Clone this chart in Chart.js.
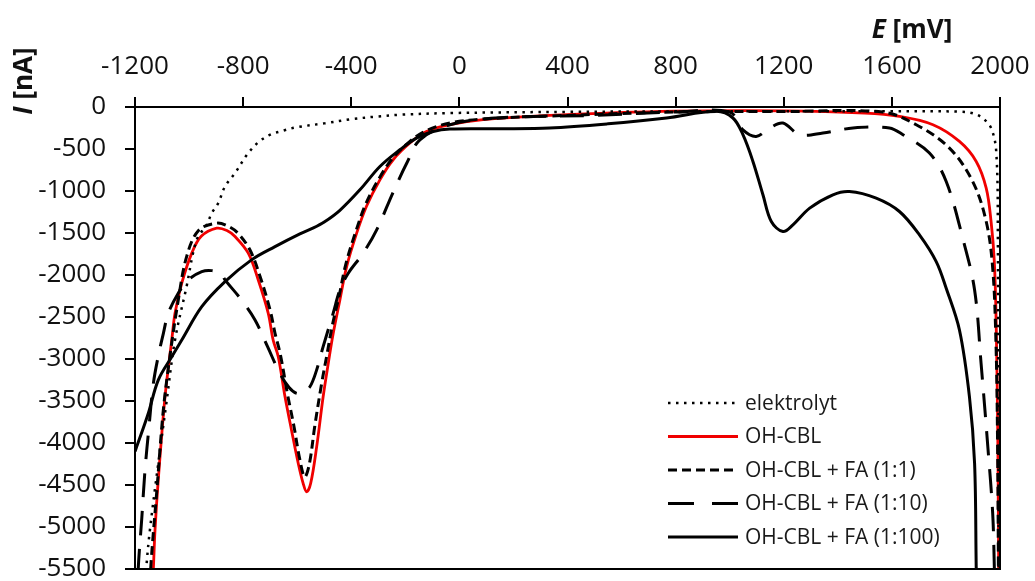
<!DOCTYPE html>
<html>
<head>
<meta charset="utf-8">
<script src="https://cdn.jsdelivr.net/npm/chart.js@4.4.1/dist/chart.umd.min.js"></script>
<style>
  body { margin: 0; background: #fff; }
  #cv { display: block; }
</style>
</head>
<body>
<canvas id="cv" width="1035" height="581"></canvas>
<script>
// axis ranges / tick steps
const eMin = -1200, eMax = 2000, eStep = 400;
const iMin = -5500, iMax = 0, iStep = 500;

const seriesNames = ["elektrolyt", "OH-CBL", "OH-CBL + FA (1:1)", "OH-CBL + FA (1:10)", "OH-CBL + FA (1:100)"];

// E [mV] / I [nA], each list follows the drawn curve
const elektrolytE = [-1170, -1157, -1145, -1114, -1085, -1052, -1010, -972, -935, -916, -892, -867, -830, -781, -740, -700, -650, -600, -500, -400, -300, -220, -35, 400, 800, 1200, 1600, 1850, 1900, 1935, 1967, 1986, 1992, 1995];
const elektrolytI = [-6000, -5436, -5039, -4244, -3550, -2774, -2150, -1582, -1403, -1263, -1144, -946, -787, -548, -410, -330, -280, -240, -195, -145, -112, -92, -72, -58, -52, -50, -50, -55, -75, -131, -250, -529, -1500, -6000];

const ohcblE = [-1140, -1132, -1126, -1114, -1089, -1064, -1052, -1027, -990, -955, -898, -860, -830, -781, -744, -707, -689, -670, -645, -621, -596, -578, -565, -550, -528, -504, -485, -467, -442, -417, -380, -344, -294, -245, -183, -122, -35, 88, 335, 800, 1200, 1500, 1628, 1752, 1850, 1912, 1949, 1967, 1979, 1986, 1992, 1996];
const ohcblI = [-6000, -5495, -5039, -4443, -3450, -2774, -2456, -2098, -1740, -1540, -1443, -1470, -1542, -1740, -2059, -2456, -2774, -2973, -3450, -3847, -4244, -4480, -4582, -4480, -4046, -3450, -3052, -2700, -2297, -1900, -1502, -1185, -867, -628, -429, -291, -211, -151, -100, -50, -45, -72, -112, -211, -410, -648, -966, -1363, -1840, -2600, -4000, -6000];

const fa1E = [-1150, -1140, -1120, -1095, -1070, -1040, -1009, -965, -898, -855, -820, -775, -737, -700, -682, -662, -637, -612, -590, -572, -555, -535, -510, -490, -470, -445, -420, -383, -347, -297, -247, -185, -125, -35, 100, 400, 800, 1200, 1565, 1690, 1813, 1899, 1949, 1973, 1985, 1991, 1995];
const fa1I = [-6000, -5400, -4600, -3600, -2950, -2300, -1781, -1470, -1383, -1420, -1500, -1700, -2020, -2420, -2694, -2950, -3400, -3800, -4200, -4403, -4250, -3800, -3300, -2950, -2600, -2250, -1870, -1480, -1160, -850, -610, -415, -285, -190, -140, -100, -60, -55, -60, -211, -489, -887, -1363, -1919, -2800, -4000, -6000];

const fa10E = [-1192, -1188, -1175, -1163, -1148, -1132, -1113, -1095, -1077, -1040, -1003, -953, -916, -880, -867, -806, -756, -710, -664, -630, -602, -578, -553, -530, -504, -467, -442, -411, -356, -306, -246, -194, -146, -35, 150, 500, 800, 1000, 1049, 1098, 1148, 1197, 1259, 1345, 1456, 1591, 1641, 1739, 1801, 1862, 1906, 1930, 1955, 1973, 1979, 1983];
const fa10I = [-6000, -5492, -4900, -4323, -3800, -3290, -2950, -2694, -2456, -2217, -2059, -1960, -1948, -1990, -2058, -2297, -2535, -2850, -3171, -3340, -3409, -3390, -3330, -3150, -2853, -2456, -2178, -1979, -1740, -1463, -1021, -664, -390, -211, -128, -100, -60, -60, -272, -350, -250, -191, -330, -310, -250, -250, -330, -548, -887, -1561, -2178, -3052, -4045, -4840, -5476, -6000];

const fa100E = [-1200, -1194, -1151, -1114, -1064, -1027, -953, -867, -769, -682, -590, -540, -500, -442, -368, -294, -220, -159, -97, -35, 150, 334, 550, 766, 950, 1012, 1049, 1086, 1123, 1154, 1197, 1234, 1296, 1382, 1443, 1542, 1628, 1702, 1764, 1801, 1850, 1887, 1906, 1912, 1915];
const fa100I = [-4100, -4046, -3648, -3251, -2973, -2774, -2377, -2079, -1820, -1662, -1510, -1440, -1370, -1230, -986, -708, -509, -370, -291, -262, -259, -250, -200, -131, -52, -131, -330, -648, -1045, -1363, -1483, -1403, -1204, -1045, -1006, -1085, -1244, -1522, -1840, -2158, -2655, -3450, -4244, -5476, -6000];

function toPoints(es, is) {
  return es.map((e, k) => ({ x: e, y: is[k] }));
}

const tickFont = { family: "'Open Sans'", size: 26 };

function line(label, es, is, color, width, dash, order) {
  return {
    label: label,
    data: toPoints(es, is),
    showLine: true,
    borderColor: color,
    backgroundColor: color,
    borderWidth: width,
    borderDash: dash,
    pointRadius: 0,
    tension: 0.35,
    fill: false,
    order: order,
  };
}

// frame on the right and bottom sides of the plot
const framePlugin = {
  id: "frame",
  afterDatasetsDraw(chart) {
    const a = chart.chartArea;
    const ctx = chart.ctx;
    ctx.save();
    ctx.strokeStyle = "#000";
    ctx.lineWidth = 2;
    ctx.beginPath();
    ctx.moveTo(a.left, a.top);
    ctx.lineTo(a.right, a.top);
    ctx.lineTo(a.right, a.bottom);
    ctx.lineTo(a.left - 10, a.bottom);
    ctx.stroke();
    ctx.restore();
  },
};

// legend drawn inside the plot, lower right
const innerLegend = {
  id: "innerLegend",
  afterDraw(chart) {
    const a = chart.chartArea;
    const ctx = chart.ctx;
    const x0 = a.right - 332, y0 = a.bottom - 166;
    ctx.save();
    chart.data.datasets.forEach((ds, k) => {
      const y = y0 + k * 33.5;
      ctx.strokeStyle = ds.borderColor;
      ctx.lineWidth = ds.borderWidth;
      ctx.setLineDash(ds.legendDash || ds.borderDash || []);
      ctx.beginPath();
      ctx.moveTo(x0, y);
      ctx.lineTo(x0 + 70, y);
      ctx.stroke();
      ctx.setLineDash([]);
      ctx.fillStyle = "#1a1a1a";
      ctx.font = "21px 'Open Sans'";
      ctx.textBaseline = "middle";
      ctx.textAlign = "left";
      ctx.fillText(ds.label, x0 + 77, y + 1);
    });
    ctx.restore();
  },
};

// axis titles with italic symbol + bold unit
function richTitle(ctx, sym, unit, x, y) {
  ctx.font = "italic bold 26px 'Open Sans'";
  const w1 = ctx.measureText(sym).width;
  ctx.font = "bold 26px 'Open Sans'";
  const w2 = ctx.measureText(unit).width;
  let sx = x - (w1 + w2) / 2;
  ctx.textAlign = "left";
  ctx.textBaseline = "middle";
  ctx.font = "italic bold 26px 'Open Sans'";
  ctx.fillText(sym, sx, y);
  ctx.font = "bold 26px 'Open Sans'";
  ctx.fillText(unit, sx + w1, y);
}

const titlesPlugin = {
  id: "titles",
  afterDraw(chart) {
    const ctx = chart.ctx;
    const a = chart.chartArea;
    ctx.save();
    ctx.fillStyle = "#111";
    richTitle(ctx, "E", " [mV]", a.right - 88, 31);
    ctx.translate(25, 81);
    ctx.rotate(-Math.PI / 2);
    richTitle(ctx, "I", " [nA]", 0, 0);
    ctx.restore();
  },
};

new Chart(document.getElementById("cv"), {
  type: "scatter",
  data: {
    datasets: [
      line(seriesNames[0], elektrolytE, elektrolytI, "#000", 2.5, [2.5, 5.5], 2),
      line(seriesNames[1], ohcblE, ohcblI, "#f00000", 2.8, [], 5),
      line(seriesNames[2], fa1E, fa1I, "#000", 3, [9, 5], 1),
      Object.assign(line(seriesNames[3], fa10E, fa10I, "#000", 3, [24, 14], 3), { legendDash: [26, 18] }),
      line(seriesNames[4], fa100E, fa100I, "#000", 3, [], 4),
    ],
  },
  options: {
    responsive: false,
    animation: false,
    layout: { padding: { left: 0, top: 0, right: 35, bottom: 12 } },
    plugins: { legend: { display: false }, tooltip: { enabled: false } },
    scales: {
      x: {
        type: "linear",
        position: "top",
        min: eMin,
        max: eMax,
        afterFit(scale) {
          scale.height = 107;
          scale.paddingLeft = 0;
          scale.paddingRight = 0;
        },
        ticks: { stepSize: eStep, font: tickFont, color: "#111", padding: 15, maxRotation: 0, callback: (v) => String(v) },
        grid: { drawOnChartArea: false, drawTicks: true, tickLength: 10, color: "#000", lineWidth: 2 },
        border: { display: true, color: "#000", width: 2 },
      },
      y: {
        type: "linear",
        min: iMin,
        max: iMax,
        afterFit(scale) {
          scale.width = 135;
          scale.paddingTop = 0;
          scale.paddingBottom = 0;
        },
        ticks: { stepSize: iStep, font: tickFont, color: "#111", padding: 19, callback: (v) => String(v) },
        grid: { drawOnChartArea: false, drawTicks: true, tickLength: 10, color: "#000", lineWidth: 2 },
        border: { display: true, color: "#000", width: 2 },
      },
    },
  },
  plugins: [framePlugin, innerLegend, titlesPlugin],
});
</script>
</body>
</html>
